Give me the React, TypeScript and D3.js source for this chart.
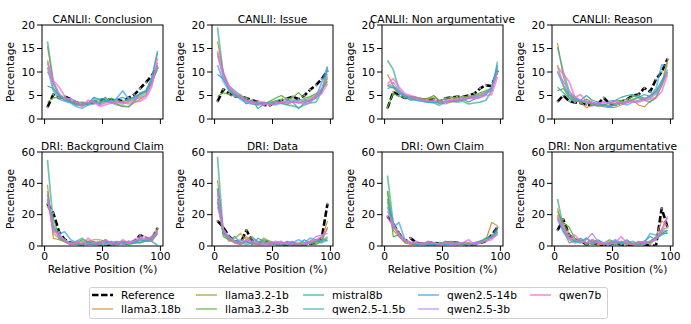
import { useMemo } from "react";
import * as d3 from "d3";

// bin centres (relative position, %)
const positions = [2.5, 7.5, 12.5, 17.5, 22.5, 27.5, 32.5, 37.5, 42.5, 47.5, 52.5, 57.5, 62.5, 67.5, 72.5, 77.5, 82.5, 87.5, 92.5, 97.5];

const models = ["Reference", "llama3.18b", "llama3.2-1b", "llama3.2-3b", "mistral8b", "qwen2.5-1.5b", "qwen2.5-14b", "qwen2.5-3b", "qwen7b"];
const colors = ["#000000", "#d58c32", "#a4a031", "#50b131", "#34ae91", "#37abb5", "#3ba3ec", "#bb83f4", "#f564d4"];

const titles = ["CANLII: Conclusion", "CANLII: Issue", "CANLII: Non argumentative", "CANLII: Reason", "DRI: Background Claim", "DRI: Data", "DRI: Own Claim", "DRI: Non argumentative"];
const topTicks = [0, 5, 10, 15, 20];
const bottomTicks = [0, 20, 40, 60];
const xTicks = [0, 50, 100];

// one row per model, same order as `models`
const canliiConclusion = [
  [2.5, 5.2, 4.5, 4.8, 4.2, 3.5, 3.2, 3.4, 3.6, 4.0, 4.3, 3.9, 4.1, 3.8, 4.5, 5.2, 6.5, 7.8, 9.2, 11.0],
  [15.5, 7.5, 5.0, 4.2, 3.6, 3.0, 2.8, 3.2, 3.5, 3.3, 3.8, 3.6, 3.2, 2.6, 2.6, 3.5, 4.2, 5.0, 7.5, 11.5],
  [12.5, 6.5, 4.8, 4.0, 3.8, 3.2, 3.0, 3.3, 3.8, 3.4, 3.6, 4.0, 3.5, 3.2, 3.6, 4.0, 4.8, 5.5, 8.0, 11.0],
  [3.6, 4.5, 4.6, 4.2, 3.8, 3.5, 3.6, 3.4, 3.8, 4.2, 3.9, 4.4, 4.0, 3.6, 4.3, 4.6, 5.2, 5.8, 7.8, 10.5],
  [16.5, 8.0, 5.2, 4.0, 3.5, 3.0, 3.2, 3.0, 3.2, 3.6, 4.0, 3.5, 3.0, 2.8, 2.6, 3.8, 5.5, 6.0, 8.5, 14.5],
  [7.0, 6.5, 5.0, 4.5, 3.8, 3.2, 2.8, 3.4, 4.6, 4.2, 4.4, 3.8, 4.2, 4.6, 3.9, 4.8, 5.2, 6.0, 8.8, 14.0],
  [11.0, 6.0, 4.2, 3.8, 3.4, 2.6, 2.3, 3.0, 4.5, 3.0, 4.6, 3.3, 4.5, 6.0, 4.2, 4.4, 5.5, 5.8, 7.5, 11.5],
  [10.0, 7.8, 5.5, 4.2, 4.4, 3.6, 3.3, 3.5, 3.8, 3.0, 3.4, 3.7, 3.6, 3.4, 3.8, 4.3, 4.5, 5.0, 7.5, 12.0],
  [12.0, 8.2, 6.8, 4.8, 4.0, 3.5, 2.7, 4.0, 3.6, 2.7, 3.0, 3.4, 3.8, 3.6, 3.2, 3.6, 3.8, 4.5, 6.8, 13.0],
];

const canliiIssue = [
  [3.7, 6.3, 5.4, 4.8, 4.9, 4.4, 4.0, 3.6, 3.0, 2.9, 3.6, 4.0, 4.3, 4.8, 4.2, 5.0, 6.2, 7.2, 8.5, 10.3],
  [16.5, 10.0, 6.0, 5.0, 4.4, 3.8, 3.2, 3.0, 3.5, 3.2, 3.8, 3.4, 3.1, 3.6, 3.4, 3.8, 4.0, 4.8, 6.0, 8.6],
  [14.0, 9.0, 6.2, 5.4, 4.6, 4.0, 3.6, 3.2, 3.3, 3.6, 3.8, 3.5, 3.8, 4.2, 3.6, 4.0, 4.5, 5.2, 6.4, 9.0],
  [4.8, 5.6, 5.2, 4.8, 5.0, 4.4, 3.8, 3.4, 3.0, 3.8, 4.4, 5.0, 4.2, 4.6, 5.6, 4.4, 4.8, 5.4, 6.2, 8.0],
  [19.5, 9.5, 7.0, 6.0, 5.0, 3.8, 3.5, 3.0, 3.2, 3.0, 3.4, 3.3, 3.0, 2.8, 2.4, 3.0, 3.4, 3.6, 5.8, 11.0],
  [9.5, 8.5, 6.5, 5.2, 4.6, 3.2, 4.0, 2.2, 3.2, 3.4, 3.8, 4.2, 4.0, 3.6, 2.2, 3.4, 4.0, 4.4, 6.0, 10.5],
  [11.5, 8.0, 6.0, 5.0, 4.2, 3.4, 3.2, 3.4, 3.6, 3.2, 3.0, 3.4, 3.6, 3.8, 4.0, 4.2, 3.6, 4.6, 7.8, 11.2],
  [13.5, 9.0, 6.6, 5.6, 4.6, 3.8, 3.4, 3.2, 3.0, 3.2, 3.5, 3.4, 3.8, 3.6, 3.5, 3.6, 4.2, 5.0, 6.5, 9.5],
  [14.5, 10.0, 7.0, 5.6, 4.8, 4.0, 3.6, 3.8, 3.4, 3.0, 3.2, 3.6, 3.3, 3.7, 3.4, 3.2, 3.6, 4.8, 5.4, 7.5],
];

const canliiNonArg = [
  [2.3, 5.8, 5.0, 4.5, 4.6, 4.4, 4.2, 4.0, 4.2, 3.6, 4.4, 4.6, 4.7, 4.7, 5.0, 5.4, 6.5, 7.2, 7.0, 10.3],
  [9.5, 7.0, 5.8, 5.0, 4.6, 4.2, 4.0, 3.8, 3.6, 3.4, 3.2, 3.6, 3.8, 4.0, 4.4, 4.6, 5.0, 5.4, 6.0, 10.0],
  [7.0, 6.6, 5.6, 5.0, 4.8, 4.4, 4.2, 4.4, 4.6, 4.0, 4.2, 4.3, 4.4, 4.6, 4.8, 5.0, 5.2, 5.8, 6.4, 10.2],
  [2.5, 5.5, 4.8, 4.6, 4.8, 4.6, 4.2, 4.4, 5.0, 3.8, 4.4, 4.6, 4.6, 4.8, 4.6, 5.0, 5.6, 6.0, 6.6, 10.5],
  [12.5, 10.5, 6.2, 5.0, 4.2, 4.0, 3.8, 3.6, 3.4, 2.9, 3.6, 3.8, 3.6, 3.8, 3.2, 3.4, 3.6, 4.0, 6.0, 12.2],
  [6.5, 6.8, 5.4, 4.6, 4.0, 4.2, 4.0, 3.6, 3.6, 3.4, 3.8, 3.8, 4.0, 4.2, 3.6, 4.2, 4.6, 5.2, 6.6, 11.5],
  [7.2, 7.0, 5.8, 5.0, 4.4, 4.0, 3.8, 3.6, 3.6, 3.5, 3.7, 3.8, 4.0, 4.1, 4.4, 4.6, 5.0, 5.6, 6.6, 11.0],
  [7.0, 7.8, 6.0, 5.2, 4.6, 4.2, 4.0, 3.8, 3.8, 3.6, 3.8, 4.0, 4.2, 4.4, 4.6, 4.8, 5.0, 5.4, 6.2, 10.0],
  [7.5, 8.6, 6.8, 5.4, 5.0, 4.6, 4.2, 4.0, 4.0, 3.8, 3.6, 3.9, 4.0, 4.2, 4.4, 4.4, 4.6, 5.0, 5.2, 9.0],
];

const canliiReason = [
  [3.7, 5.0, 3.8, 3.5, 3.4, 3.0, 3.0, 3.2, 4.5, 3.2, 3.0, 3.6, 4.2, 5.0, 5.2, 6.6, 5.8, 8.4, 10.0, 12.8],
  [16.2, 9.0, 5.2, 3.8, 3.6, 2.4, 3.0, 2.8, 2.6, 2.4, 2.5, 3.0, 3.5, 4.0, 3.0, 2.6, 3.8, 4.4, 7.0, 12.5],
  [11.5, 7.0, 5.0, 4.4, 3.8, 3.4, 3.2, 3.0, 3.0, 2.8, 3.2, 3.6, 3.8, 4.0, 4.6, 4.2, 4.4, 5.4, 7.6, 12.2],
  [6.0, 6.5, 4.6, 4.0, 3.6, 4.2, 3.6, 3.2, 3.0, 3.4, 3.8, 4.0, 4.2, 4.8, 5.0, 4.4, 4.8, 5.8, 7.2, 10.0],
  [15.3, 10.0, 6.0, 4.2, 3.8, 3.6, 3.0, 2.8, 3.2, 2.6, 3.0, 3.4, 3.6, 4.2, 4.6, 4.0, 3.6, 4.6, 7.6, 10.5],
  [6.8, 5.6, 4.4, 3.6, 4.0, 5.0, 4.0, 3.6, 2.8, 3.8, 4.0, 4.6, 5.0, 5.2, 4.6, 5.2, 4.8, 6.0, 8.2, 9.8],
  [10.0, 7.2, 5.2, 4.4, 4.0, 3.6, 3.4, 3.0, 2.8, 2.6, 3.2, 3.4, 3.0, 3.6, 3.8, 4.2, 5.0, 6.4, 11.5, 11.2],
  [10.2, 8.0, 5.8, 4.8, 4.0, 3.6, 3.5, 3.4, 3.6, 3.2, 3.4, 3.6, 3.8, 3.6, 4.0, 4.4, 4.6, 5.6, 7.0, 10.0],
  [11.0, 9.6, 8.0, 4.6, 5.2, 3.8, 3.4, 3.2, 3.6, 3.4, 3.8, 3.3, 3.5, 3.8, 3.6, 4.0, 4.2, 4.6, 5.8, 9.4],
];

const driBackground = [
  [27, 21, 9, 4, 2, 1.5, 1, 1.5, 2, 1, 0.5, 1, 1.5, 2, 1.5, 3, 7, 5, 4, 11.5],
  [39, 5, 4, 2.5, 1, 1, 2, 3, 4, 4, 3, 1, 2, 3, 2, 3, 4, 3, 5, 10],
  [35, 8, 5, 3, 2, 1, 1, 2, 1, 2, 3, 2, 1, 2, 3, 2, 3, 4, 6, 11],
  [25, 18, 6, 3, 1, 2, 4, 3, 2, 1, 0.5, 2, 3, 2, 1, 2, 2, 3, 3, 8],
  [55, 14, 5, 3, 1, 3, 5, 2, 1, 2, 4, 1, 2, 3, 1, 2, 5, 4, 3, 0.5],
  [30, 12, 7, 4, 2, 1, 0.5, 2, 3, 1, 2, 3, 1, 2, 2, 3, 2, 4, 5, 9],
  [33, 10, 8, 9, 4, 2, 1, 2, 1, 1, 2, 0.5, 2, 1, 3, 2, 4, 3, 4, 8],
  [30, 11, 6, 4, 1, 2, 3, 1, 2, 3, 1, 2, 3, 1, 2, 3, 5, 4, 6, 9],
  [30, 9, 8, 3, 1, 3, 1, 5, 2, 0.5, 4, 2, 1, 4, 2, 4, 6, 6, 3, 10],
];

const driData = [
  [16, 12, 6, 3, 2, 10, 3, 1.5, 2.5, 2, 1.5, 1, 1, 1.5, 1, 1, 1.5, 2, 5, 27],
  [42, 10, 4, 2, 3, 6, 2, 1, 3, 2, 1, 0.5, 1, 2, 1, 2, 3, 2, 4, 16],
  [36, 8, 3, 5, 8, 4, 6, 2, 5, 3, 1, 2, 1, 0.5, 2, 1, 3, 4, 3, 6],
  [28, 6, 4, 2, 1, 3, 1, 2, 4, 3, 2, 1, 1, 2, 1, 0.5, 2, 1, 3, 12],
  [57, 8, 5, 3, 2, 1, 2, 1, 1, 2, 1, 1, 2, 1, 0.5, 1, 2, 3, 2, 4],
  [30, 10, 4, 6, 2, 3, 1, 5, 3, 1, 2, 1, 3, 2, 1, 4, 2, 3, 5, 3],
  [37, 9, 5, 3, 4, 2, 5, 3, 2, 1, 2, 3, 1, 2, 4, 2, 5, 4, 3, 5],
  [25, 11, 6, 3, 2, 4, 3, 2, 1, 3, 2, 1, 2, 3, 1, 2, 3, 6, 7, 8],
  [34, 10, 5, 2, 1, 4, 2, 1, 2, 1, 3, 2, 2, 1, 0.5, 1, 2, 4, 6, 11],
];

const driOwnClaim = [
  [19, 14, 8, 3, 5, 2, 1.5, 2, 2, 1.5, 2, 2.5, 2, 1.5, 1, 1, 2, 3, 7, 12],
  [28, 10, 6, 2, 1, 1, 2, 1, 0.5, 1, 2, 3, 2, 1, 2, 1, 3, 4, 15, 13],
  [35, 12, 8, 3, 2, 1, 2, 1, 2, 1, 3, 2, 1, 2, 1, 2, 3, 4, 6, 9],
  [35, 6, 7, 3, 2, 1, 1.5, 2, 1, 2, 2, 3, 1, 1, 2, 1, 2, 5, 5, 10],
  [45, 14, 8, 4, 2, 1, 1, 2, 1, 1, 2, 1, 2, 1, 1, 2, 3, 5, 6, 7],
  [30, 15, 6, 3, 2, 1, 1, 0.5, 1, 2, 1, 1, 1, 2, 1, 0.5, 2, 4, 5, 9],
  [25, 12, 15, 4, 2, 1, 2, 1, 2, 1, 1, 2, 1, 2, 1, 1, 2, 3, 6, 12],
  [22, 14, 7, 3, 2, 2, 1, 2, 2, 1, 2, 1, 2, 2, 1, 2, 2, 4, 5, 8],
  [19, 12, 7, 4, 2, 3, 1, 3, 2, 1, 2, 2, 1, 2, 4, 1, 2, 3, 4, 8],
];

const driNonArg = [
  [10, 17, 7, 4, 3, 1, 2, 1, 0.5, 1, 2, 1, 0.5, 1, 2, 1, 0.5, 0, 24, 12],
  [24, 10, 2, 3, 4, 1, 2, 1, 1, 2, 1, 3, 1, 0.5, 2, 1, 3, 6, 16, 13],
  [20, 14, 8, 4, 3, 2, 3, 2, 1, 2, 3, 2, 1, 2, 1, 2, 3, 5, 10, 12],
  [22, 15, 12, 5, 3, 2, 4, 3, 2, 4, 2, 3, 2, 1, 2, 3, 2, 4, 8, 10],
  [30, 12, 6, 3, 2, 5, 2, 3, 1, 2, 1, 2, 3, 1, 2, 1, 3, 5, 7, 9],
  [18, 10, 5, 3, 5, 2, 1, 4, 2, 1, 3, 2, 4, 1, 2, 3, 6, 4, 8, 8],
  [17, 9, 4, 2, 3, 5, 2, 3, 1, 2, 4, 1, 2, 3, 1, 2, 8, 7, 9, 10],
  [18, 11, 5, 4, 2, 4, 8, 3, 2, 1, 2, 3, 2, 1, 3, 2, 3, 4, 11, 19],
  [19, 12, 5, 7, 3, 2, 4, 2, 1, 3, 2, 6, 2, 1, 2, 3, 1, 5, 9, 18],
];

const panelData = [canliiConclusion, canliiIssue, canliiNonArg, canliiReason, driBackground, driData, driOwnClaim, driNonArg];

const WIDTH = 691;
const HEIGHT = 324;
const FONT = "'DejaVu Sans', sans-serif";
const FS = 10.67; // 8pt
const AX = { left: 42, colStep: 170, width: 121, tops: [25, 152], height: 94 };

// thick translucent lines for every other model, like the legend
const lineStyle = (i: number) => {
  if (i === 0) return { w: 2.6, op: 1, dash: "6.5,2.5" };
  return i % 2 === 0 ? { w: 1.7, op: 0.7, dash: undefined } : { w: 1.1, op: 1, dash: undefined };
};

const Panel = ({ idx }: { idx: number }) => {
  const row = idx < 4 ? 0 : 1;
  const col = idx % 4;
  const left = AX.left + col * AX.colStep;
  const top = AX.tops[row];
  const ticks = row === 0 ? topTicks : bottomTicks;
  const yMax = ticks[ticks.length - 1];

  const x = d3.scaleLinear().domain([-2.25, 102.25]).range([0, AX.width]);
  const y = d3.scaleLinear().domain([0, yMax]).range([AX.height, 0]);
  const line = d3
    .line<number>()
    .x((_, i) => x(positions[i]))
    .y((d) => y(d));

  const series = panelData[idx];

  return (
    <g transform={`translate(${left},${top})`}>
      <defs>
        <clipPath id={`clip${idx}`}>
          <rect x={0} y={0} width={AX.width} height={AX.height} />
        </clipPath>
      </defs>
      <g clipPath={`url(#clip${idx})`}>
        {series.map((vals, i) => {
          const s = lineStyle(i);
          return (
            <path
              key={i}
              d={line(vals) || ""}
              fill="none"
              stroke={colors[i]}
              strokeWidth={s.w}
              strokeOpacity={s.op}
              strokeDasharray={s.dash}
              strokeLinejoin="round"
            />
          );
        })}
        {series[0].map((v, i) => (
          <circle key={i} cx={x(positions[i])} cy={y(v)} r={1.1} fill="#9a9a9a" />
        ))}
      </g>
      <rect x={0} y={0} width={AX.width} height={AX.height} fill="none" stroke="#000" strokeWidth={1} />
      {ticks.map((t) => (
        <g key={t} transform={`translate(0,${y(t)})`}>
          <line x1={-5} x2={0} stroke="#000" strokeWidth={1} />
          <text x={-7} dy="0.35em" textAnchor="end" fontSize={FS}>
            {t}
          </text>
        </g>
      ))}
      {xTicks.map((t) => (
        <g key={t} transform={`translate(${x(t)},${AX.height})`}>
          <line y1={0} y2={5} stroke="#000" strokeWidth={1} />
          {row === 1 && (
            <text y={13.5} textAnchor="middle" fontSize={FS}>
              {t}
            </text>
          )}
        </g>
      ))}
      <text x={AX.width / 2} y={-2.5} textAnchor="middle" fontSize={FS}>
        {titles[idx]}
      </text>
      <text transform={`translate(-28,${AX.height / 2}) rotate(-90)`} textAnchor="middle" fontSize={FS}>
        Percentage
      </text>
      {row === 1 && (
        <text x={AX.width / 2} y={AX.height + 26.5} textAnchor="middle" fontSize={FS}>
          Relative Position (%)
        </text>
      )}
    </g>
  );
};

const legendCols = [92, 196, 303, 418, 530];
const legendRows = [295, 309];

const Legend = () => (
  <g>
    <rect x={89.5} y={287.5} width={518} height={31} rx={2} fill="#fff" fillOpacity={0.8} stroke="#d0d0d0" strokeWidth={1} />
    {models.map((m, i) => {
      const cx = legendCols[Math.floor(i / 2)];
      const cy = legendRows[i % 2];
      const s = lineStyle(i);
      return (
        <g key={m}>
          <line
            x1={cx}
            x2={cx + 21}
            y1={cy}
            y2={cy}
            stroke={colors[i]}
            strokeWidth={s.w}
            strokeOpacity={s.op}
            strokeDasharray={s.dash}
          />
          <text x={cx + 29} y={cy} dy="0.35em" fontSize={FS}>
            {m}
          </text>
        </g>
      );
    })}
  </g>
);

export default function App() {
  useMemo(() => {
    document.body.style.margin = "0";
  }, []);
  return (
    <svg width={WIDTH} height={HEIGHT} style={{ display: "block", fontFamily: FONT }} fill="#000">
      <rect width={WIDTH} height={HEIGHT} fill="#fff" />
      {titles.map((_, i) => (
        <Panel key={i} idx={i} />
      ))}
      <Legend />
    </svg>
  );
}
